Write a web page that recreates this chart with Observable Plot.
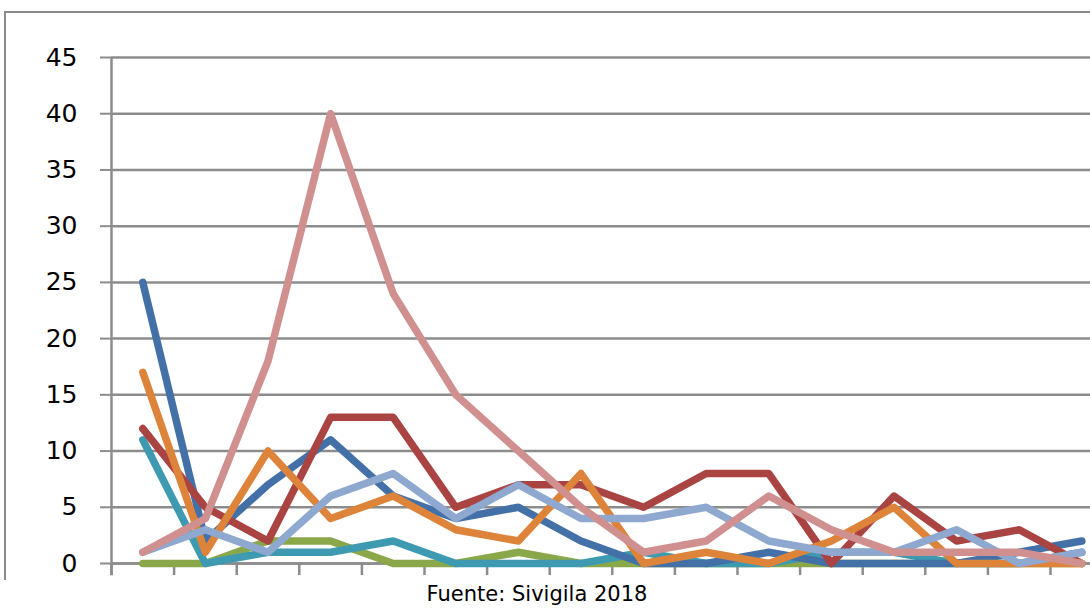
<!DOCTYPE html>
<html>
<head>
<meta charset="utf-8">
<script src="https://cdn.jsdelivr.net/npm/d3@7"></script>
<script src="https://cdn.jsdelivr.net/npm/@observablehq/plot@0.6"></script>
<style>
  html, body { margin: 0; padding: 0; background: #fff; }
  #wrap { position: relative; width: 1090px; height: 608px; overflow: hidden; background: #fff; }
  #frame { position: absolute; left: 4px; top: 11px; width: 1200px; height: 567px;
           border-top: 2px solid #8a8a8a; border-left: 2px solid #8a8a8a; }
  #chart { position: absolute; left: 0; top: 0; }
  #caption { position: absolute; left: 337px; width: 400px; top: 582px; text-align: center;
             font-family: "DejaVu Sans", sans-serif; font-size: 21px; color: #000; }
</style>
</head>
<body>
<div id="wrap">
  <div id="frame"></div>
  <div id="chart"></div>
  <div id="caption">Fuente: Sivigila 2018</div>
</div>
<script>
// Categories (periods) along the x axis
const periods = [1, 2, 3, 4, 5, 6, 7, 8, 9, 10, 11, 12, 13, 14, 15, 16];
const yTicks = [0, 5, 10, 15, 20, 25, 30, 35, 40, 45];

// Series values
const serieVerde     = [0, 0, 2, 2, 0, 0, 1, 0, 0, 0, 0, 0, 0, 0, 0, 0];
const serieTurquesa  = [11, 0, 1, 1, 2, 0, 0, 0, 1, 0, 0, 1, 1, 0, 0, 1];
const serieAzul      = [25, 2, 7, 11, 6, 4, 5, 2, 0, 0, 1, 0, 0, 0, 1, 2];
const serieRoja      = [12, 5, 2, 13, 13, 5, 7, 7, 5, 8, 8, 0, 6, 2, 3, 0];
const serieNaranja   = [17, 1, 10, 4, 6, 3, 2, 8, 0, 1, 0, 2, 5, 0, 0, 0];
const serieCeleste   = [1, 3, 1, 6, 8, 4, 7, 4, 4, 5, 2, 1, 1, 3, 0, 1];
const serieRosa      = [1, 4, 18, 40, 24, 15, 10, 5, 1, 2, 6, 3, 1, 1, 1, 0];

const seriesNames = ["Verde", "Turquesa", "Azul", "Roja", "Naranja", "Celeste", "Rosa"];
const seriesValues = [serieVerde, serieTurquesa, serieAzul, serieRoja, serieNaranja, serieCeleste, serieRosa];
const seriesColors = ["#8aa84a", "#3e9ab0", "#4470a8", "#a94442", "#de843a", "#8fa8cf", "#d09090"];

const data = [];
seriesNames.forEach((name, s) => {
  periods.forEach((p, i) => data.push({series: name, period: p, value: seriesValues[s][i]}));
});

const bounds = d3.range(0, periods.length + 1).map(i => i + 0.5);
const gridColor = "#8c8c8c";

const chart = Plot.plot({
  width: 1090,
  height: 580,
  marginTop: 57,
  marginBottom: 17,
  marginLeft: 111,
  marginRight: 0,
  style: {background: "transparent", overflow: "visible"},
  x: {domain: [0.5, periods.length + 1.5], range: [111, 111 + (periods.length + 1) * 62.6]},
  y: {domain: [0, 45], range: [563, 57]},
  color: {domain: seriesNames, range: seriesColors},
  marks: [
    Plot.gridY(yTicks, {stroke: gridColor, strokeOpacity: 1, strokeWidth: 2.5}),
    Plot.axisY(yTicks, {tickSize: 11, tickPadding: 23, fontSize: 25, stroke: gridColor, strokeWidth: 2,
      fill: "#000", fontFamily: "DejaVu Sans", label: null}),
    Plot.axisX(bounds, {tickSize: 12, tickFormat: () => "", stroke: gridColor, strokeWidth: 2.5, label: null}),
    Plot.ruleX([0.5], {y1: -1.1, y2: 45, stroke: gridColor, strokeWidth: 2.5}),
    Plot.ruleY([0], {stroke: gridColor, strokeWidth: 2.5}),
    Plot.line(data, {x: "period", y: "value", z: "series", stroke: "series",
      strokeWidth: 7.5, strokeLinecap: "round", strokeLinejoin: "round"})
  ]
});
document.getElementById("chart").appendChild(chart);
</script>
</body>
</html>
